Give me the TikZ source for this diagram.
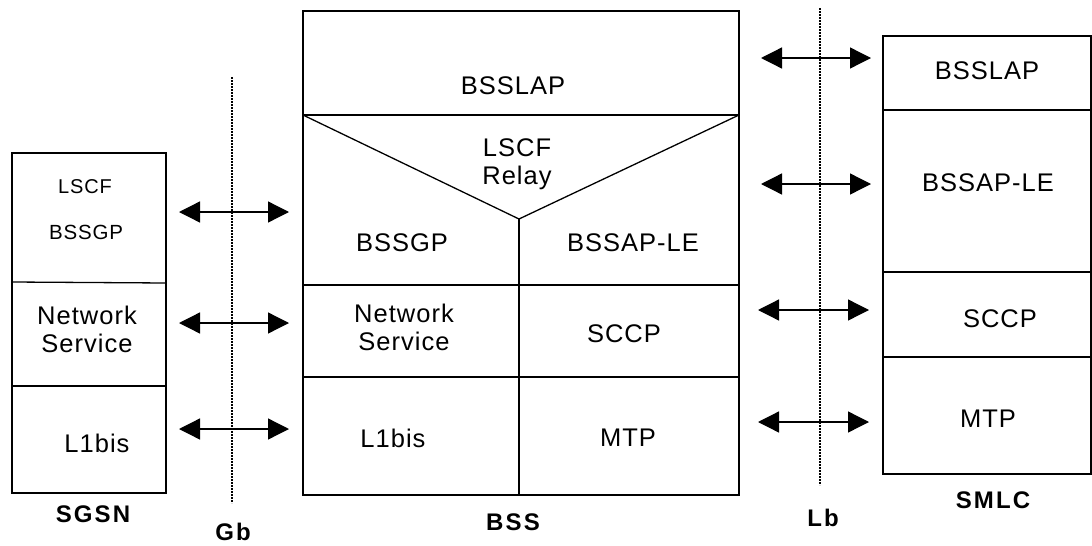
\documentclass[tikz,border=0pt]{standalone}
\usepackage{fontspec}
\setmainfont{Liberation Sans}[LetterSpace=4]
\newfontfamily\lblfont{Liberation Sans}[LetterSpace=9]
\usetikzlibrary{arrows.meta}
\begin{document}
\begin{tikzpicture}[x=1pt,y=-1pt,
  box/.style={line width=1.3pt},
  txt/.style={font=\fontsize{25.5}{28}\selectfont, inner sep=0pt, align=center},
  smalltxt/.style={font=\fontsize{20}{22}\selectfont, inner sep=0pt},
  lbl/.style={font=\lblfont\bfseries\fontsize{24}{26}\selectfont, inner sep=0pt},
  dotline/.style={line width=1.2pt, dash pattern=on 1.6pt off 1.4pt},
  dbl/.style={line width=1.3pt, {Triangle[length=21pt,width=21pt]}-{Triangle[length=21pt,width=21pt]}}]
\useasboundingbox (0,0) rectangle (1092,546);
% SGSN
\draw[box] (12,153) rectangle (166,493);
\draw[box] (12,282) -- (166,283);
\draw[box] (12,386) -- (166,386);
\node[smalltxt] (sgLSCF) at (85,187) {LSCF};
\node[smalltxt, font=\fontsize{20.5}{22}\selectfont] (sgBSSGP) at (86,232) {BSSGP};
\node[txt] (sgNS) at (87,329) {Network\\Service};
\node[txt] (sgL1) at (97,443) {L1bis};
\node[lbl] (sgsn) at (93,514) {SGSN};
% Gb
\coordinate (gbT) at (232,77);
\coordinate (gbB) at (232,503);
\draw[dotline] (gbT) -- (gbB);
\node[lbl] (gb) at (233,532) {Gb};
% arrows SGSN-BSS
\coordinate (a1l) at (179,212); \coordinate (a1r) at (289,212);
\coordinate (a2l) at (179,323); \coordinate (a2r) at (289,323);
\coordinate (a3l) at (179,429); \coordinate (a3r) at (289,429);
\draw[dbl] (a1l) -- (a1r);
\draw[dbl] (a2l) -- (a2r);
\draw[dbl] (a3l) -- (a3r);
% BSS
\draw[box] (303,11) rectangle (739,495);
\draw[box] (303,115) -- (739,115);
\draw[box] (303,115) -- (519,219) -- (739,115);
\draw[box] (519,219) -- (519,495);
\draw[box] (303,285) -- (739,285);
\draw[box] (303,377) -- (739,377);
\node[txt] (bsslap) at (513,86) {BSSLAP};
\node[txt] (relay) at (517,164) {LSCF\\Relay};
\node[txt] (bssgp) at (402,243) {BSSGP};
\node[txt] (bssaple) at (633,243) {BSSAP-LE};
\node[txt] (bssNS) at (404,327) {Network\\Service};
\node[txt] (sccp) at (624,334) {SCCP};
\node[txt] (bssL1) at (393,438) {L1bis};
\node[txt] (mtp) at (628,438) {MTP};
\node[lbl] (bss) at (513,522) {BSS};
% Lb
\coordinate (lbT) at (820,8);
\coordinate (lbB) at (820,485);
\draw[dotline] (lbT) -- (lbB);
\node[lbl] (lb) at (823,518) {Lb};
% arrows BSS-SMLC
\coordinate (b1l) at (761,58);  \coordinate (b1r) at (871,58);
\coordinate (b2l) at (761,184); \coordinate (b2r) at (871,184);
\coordinate (b3l) at (758,310); \coordinate (b3r) at (869,310);
\coordinate (b4l) at (758,422); \coordinate (b4r) at (869,422);
\draw[dbl] (b1l) -- (b1r);
\draw[dbl] (b2l) -- (b2r);
\draw[dbl] (b3l) -- (b3r);
\draw[dbl] (b4l) -- (b4r);
% SMLC
\draw[box] (883,36) rectangle (1091,474);
\draw[box] (883,110) -- (1091,110);
\draw[box] (883,272) -- (1091,272);
\draw[box] (883,357) -- (1091,357);
\node[txt] (smBSSLAP) at (987,71) {BSSLAP};
\node[txt] (smBSSAP) at (988,183) {BSSAP-LE};
\node[txt] (smSCCP) at (1000,319) {SCCP};
\node[txt] (smMTP) at (988,419) {MTP};
\node[lbl] (smlc) at (993,500) {SMLC};
\end{tikzpicture}
\end{document}
